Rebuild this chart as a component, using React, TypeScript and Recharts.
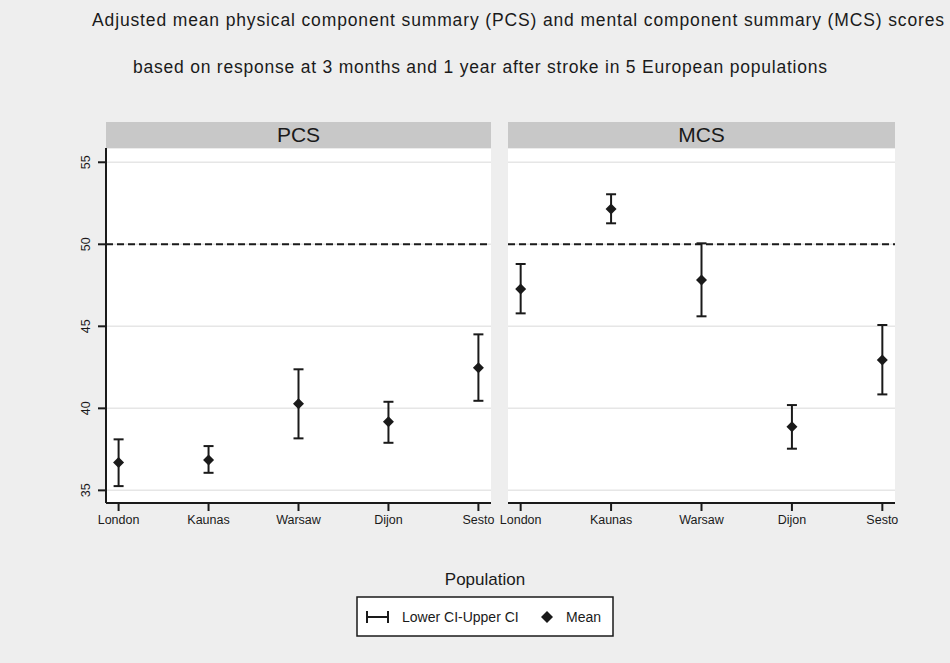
import { ComposedChart, Scatter, ErrorBar, XAxis, YAxis, CartesianGrid, ReferenceLine } from "recharts";

const populations = ["London", "Kaunas", "Warsaw", "Dijon", "Sesto"];
const yTicks = [35, 40, 45, 50, 55];

const pcsMean = [36.7, 36.85, 40.28, 39.18, 42.48];
const pcsLower = [35.26, 36.07, 38.17, 37.9, 40.46];
const pcsUpper = [38.11, 37.7, 42.38, 40.4, 44.51];

const mcsMean = [47.27, 52.15, 47.82, 38.88, 42.95];
const mcsLower = [45.79, 51.28, 45.61, 37.54, 40.85];
const mcsUpper = [48.8, 53.05, 50.06, 40.2, 45.08];

const FONT = "'Liberation Sans', Arial, sans-serif";
const BG = "#eeeeee";
const INK = "#1a1a1a";

const build = (mean: number[], lower: number[], upper: number[]) =>
  mean.map((m, i) => ({ x: i + 1, y: m, err: [m - lower[i], upper[i] - m] }));

const pcsData = build(pcsMean, pcsLower, pcsUpper);
const mcsData = build(mcsMean, mcsLower, mcsUpper);

const Diamond = (props: any) => {
  const { cx, cy } = props;
  const r = 5.5;
  return <polygon points={`${cx},${cy - r} ${cx + r},${cy} ${cx},${cy + r} ${cx - r},${cy}`} fill={INK} />;
};

const YTick = (props: any) => {
  const { x, y, payload } = props;
  return (
    <text x={x - 6} y={y} transform={`rotate(-90, ${x - 6}, ${y})`} textAnchor="middle" fontSize={12.5} fontFamily={FONT} fill={INK}>
      {payload.value}
    </text>
  );
};

const XTick = (props: any) => {
  const { x, y, payload } = props;
  return (
    <text x={x} y={y + 11} textAnchor="middle" fontSize={12.5} fontFamily={FONT} fill={INK}>
      {populations[payload.value - 1]}
    </text>
  );
};

function Panel({ data, showY, width, margin }: { data: any[]; showY: boolean; width: number; margin: any }) {
  return (
    <ComposedChart width={width} height={540} data={data} margin={margin}>
      <CartesianGrid vertical={false} stroke="#e6e6e6" strokeWidth={1.5} fill="#ffffff" />
      <XAxis
        type="number"
        dataKey="x"
        domain={[0.86, 5.14]}
        ticks={[1, 2, 3, 4, 5]}
        allowDataOverflow
        height={30}
        tickSize={8}
        axisLine={{ stroke: INK, strokeWidth: 2 }}
        tickLine={{ stroke: INK, strokeWidth: 2 }}
        tick={<XTick />}
      />
      <YAxis
        type="number"
        dataKey="y"
        domain={[34.23, 55.87]}
        ticks={yTicks}
        allowDataOverflow
        hide={!showY}
        width={51}
        tickSize={8}
        axisLine={{ stroke: INK, strokeWidth: 2 }}
        tickLine={{ stroke: INK, strokeWidth: 2 }}
        tick={<YTick />}
      />
      <ReferenceLine y={50} stroke={INK} strokeWidth={2} strokeDasharray="7 4" />
      <Scatter data={data} dataKey="y" shape={<Diamond />} isAnimationActive={false}>
        <ErrorBar dataKey="err" direction="y" width={5} stroke={INK} strokeWidth={2} />
      </Scatter>
    </ComposedChart>
  );
}

const header = (left: number, width: number, label: string) => (
  <div
    style={{
      position: "absolute",
      left,
      top: 122,
      width,
      height: 26,
      background: "#c8c8c8",
      color: INK,
      fontFamily: FONT,
      fontSize: 21,
      lineHeight: "26px",
      textAlign: "center",
    }}
  >
    {label}
  </div>
);

export default function App() {
  return (
    <div style={{ position: "fixed", left: 0, top: 0, width: 950, height: 663, background: BG, overflow: "hidden" }}>
      <div style={{ position: "absolute", left: 0, top: 0 }}>
        <Panel data={pcsData} showY width={500} margin={{ top: 148, right: 9, bottom: 7, left: 55 }} />
      </div>
      <div style={{ position: "absolute", left: 500, top: 0 }}>
        <Panel data={mcsData} showY={false} width={400} margin={{ top: 148, right: 5, bottom: 7, left: 8 }} />
      </div>
      {header(106, 385, "PCS")}
      {header(508, 387, "MCS")}
      <svg width={950} height={663} style={{ position: "absolute", left: 0, top: 0, pointerEvents: "none" }}>
        <text x={92} y={26} fontSize={17.5} fontFamily={FONT} fill={INK} textLength={852} lengthAdjust="spacing">
          Adjusted mean physical component summary (PCS) and mental component summary (MCS) scores
        </text>
        <text x={133} y={73} fontSize={17.5} fontFamily={FONT} fill={INK} textLength={694} lengthAdjust="spacing">
          based on response at 3 months and 1 year after stroke in 5 European populations
        </text>
        <text x={485} y={585} textAnchor="middle" fontSize={17} fontFamily={FONT} fill={INK}>
          Population
        </text>
        <rect x={357} y={597} width={256} height={39} fill="#ffffff" stroke={INK} strokeWidth={1.5} />
        <line x1={367} y1={617} x2={388} y2={617} stroke={INK} strokeWidth={2} />
        <line x1={367} y1={611} x2={367} y2={623} stroke={INK} strokeWidth={2} />
        <line x1={388} y1={611} x2={388} y2={623} stroke={INK} strokeWidth={2} />
        <text x={402} y={622} fontSize={14} fontFamily={FONT} fill={INK}>
          Lower CI-Upper CI
        </text>
        <polygon points="547,611 553,617 547,623 541,617" fill={INK} />
        <text x={566} y={622} fontSize={14} fontFamily={FONT} fill={INK}>
          Mean
        </text>
      </svg>
    </div>
  );
}
